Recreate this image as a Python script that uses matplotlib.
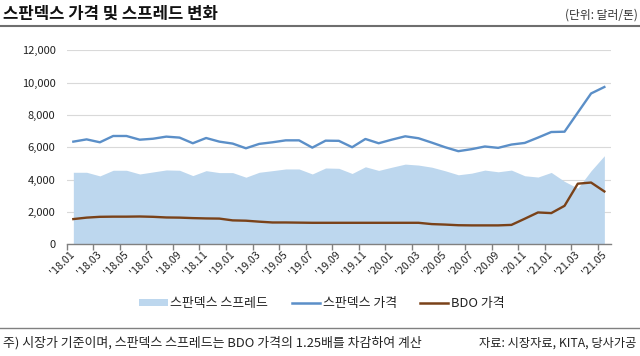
import matplotlib
matplotlib.use("Agg")
import matplotlib.pyplot as plt
from matplotlib.patches import Patch
from matplotlib.lines import Line2D
from matplotlib.ticker import FuncFormatter, FixedLocator
import numpy as np

plt.rcParams['font.family'] = ['Noto Sans CJK KR', 'DejaVu Sans']

months = ["'18.01", "'18.02", "'18.03", "'18.04", "'18.05", "'18.06", "'18.07", "'18.08", "'18.09", "'18.10",
          "'18.11", "'18.12", "'19.01", "'19.02", "'19.03", "'19.04", "'19.05", "'19.06", "'19.07", "'19.08",
          "'19.09", "'19.10", "'19.11", "'19.12", "'20.01", "'20.02", "'20.03", "'20.04", "'20.05", "'20.06",
          "'20.07", "'20.08", "'20.09", "'20.10", "'20.11", "'20.12", "'21.01", "'21.02", "'21.03", "'21.04",
          "'21.05"]

spandex_price = [6350, 6490, 6310, 6700, 6700, 6470, 6530, 6660, 6600, 6250,
                 6575, 6350, 6230, 5940, 6210, 6310, 6430, 6430, 5980, 6410,
                 6400, 6005, 6515, 6250, 6475, 6680, 6560, 6290, 6005, 5760,
                 5885, 6050, 5965, 6170, 6270, 6600, 6945, 6965, 8150, 9330,
                 9730]

bdo_price = [1560, 1650, 1700, 1710, 1710, 1720, 1700, 1660, 1650, 1620,
             1600, 1590, 1480, 1460, 1400, 1350, 1350, 1340, 1330, 1330,
             1330, 1330, 1330, 1330, 1330, 1330, 1330, 1250, 1220, 1180,
             1170, 1170, 1170, 1200, 1580, 1970, 1930, 2380, 3750, 3820,
             3270]

spandex_spread = [4455, 4455, 4230, 4580, 4580, 4350, 4475, 4600, 4580, 4250,
                  4555, 4435, 4435, 4150, 4455, 4555, 4660, 4660, 4350, 4720,
                  4700, 4380, 4795, 4570, 4770, 4960, 4900, 4770, 4550, 4300,
                  4400, 4590, 4485, 4590, 4240, 4160, 4445, 3890, 3470, 4550,
                  5480]

yticks = [0, 2000, 4000, 6000, 8000, 10000, 12000]

labels = ["스판덱스 스프레드", "스판덱스 가격", "BDO 가격"]

c_area = '#bdd7ee'
c_spandex = '#5b8fc8'
c_bdo = '#7a4219'

fig = plt.figure(figsize=(6.4, 3.56), dpi=100)
ax = fig.add_axes([66.7 / 640, 1 - 244.3 / 356, (611 - 66.7) / 640, (244.3 - 50.3) / 356])

x = np.arange(len(months))
ax.fill_between(x, 0, spandex_spread, color=c_area, linewidth=0, zorder=2)
ax.plot(x, spandex_price, color=c_spandex, lw=1.7, zorder=3, solid_joinstyle='round')
ax.plot(x, bdo_price, color=c_bdo, lw=1.7, zorder=4, solid_joinstyle='round')

ax.set_xlim(-0.5, len(months) - 0.5)
ax.set_ylim(0, 12000)
ax.set_yticks(yticks)
ax.yaxis.set_major_formatter(FuncFormatter(lambda v, p: f"{int(v):,}"))
ax.grid(axis='y', color='#d9d9d9', lw=0.8, zorder=0)
ax.set_axisbelow(True)
for s in ['left', 'right', 'top']:
    ax.spines[s].set_visible(False)
ax.spines['bottom'].set_color('#808080')
ax.spines['bottom'].set_linewidth(1.0)
ax.spines['bottom'].set_zorder(5)
ax.tick_params(axis='y', length=0, pad=8, labelsize=8, labelcolor='#222222')

# labels at every second month, tick marks at category boundaries
label_pos = x[::2]
ax.xaxis.set_major_locator(FixedLocator(label_pos))
ax.set_xticklabels([months[i] for i in label_pos])
ax.xaxis.set_minor_locator(FixedLocator(np.arange(-0.5, len(months) - 0.5, 2)))
ax.tick_params(axis='x', which='major', length=0, pad=6, labelsize=7.7, labelcolor='#222222')
ax.tick_params(axis='x', which='minor', length=4, width=1, color='#808080')
for lab in ax.get_xticklabels():
    lab.set_rotation(45)
    lab.set_rotation_mode('anchor')
    lab.set_ha('right')
    lab.set_va('center')

# title & unit
fig.text(3 / 640, 1 - 14 / 356, "스판덱스 가격 및 스프레드 변화", fontsize=12, fontweight='bold',
         ha='left', va='center', color='#111111')
fig.text(638 / 640, 1 - 15 / 356, "(단위: 달러/톤)", fontsize=8.5, ha='right', va='center', color='#333333')
fig.add_artist(Line2D([0, 1], [1 - 25.5 / 356, 1 - 25.5 / 356], color='#6e6e6e', lw=1.5,
                      transform=fig.transFigure))

# legend
handles = [Patch(facecolor=c_area, edgecolor='none'),
           Line2D([], [], color=c_spandex, lw=1.8),
           Line2D([], [], color=c_bdo, lw=1.8)]
fig.legend(handles, labels, loc='center', bbox_to_anchor=(322 / 640, 1 - 304 / 356), ncol=3,
           frameon=False, fontsize=9.3, handlelength=2.2, handleheight=0.45, handletextpad=0.2,
           columnspacing=1.8, labelcolor='#222222')

# bottom separator and notes
fig.add_artist(Line2D([0, 1], [1 - 328 / 356, 1 - 328 / 356], color='#808080', lw=1.0,
                      transform=fig.transFigure))
fig.text(3 / 640, 1 - 343 / 356, "주) 시장가 기준이며, 스판덱스 스프레드는 BDO 가격의 1.25배를 차감하여 계산",
         fontsize=9.3, ha='left', va='center', color='#222222')
fig.text(636 / 640, 1 - 343 / 356, "자료: 시장자료, KITA, 당사가공",
         fontsize=8.8, ha='right', va='center', color='#222222')

fig.savefig("out.png", dpi=100)
